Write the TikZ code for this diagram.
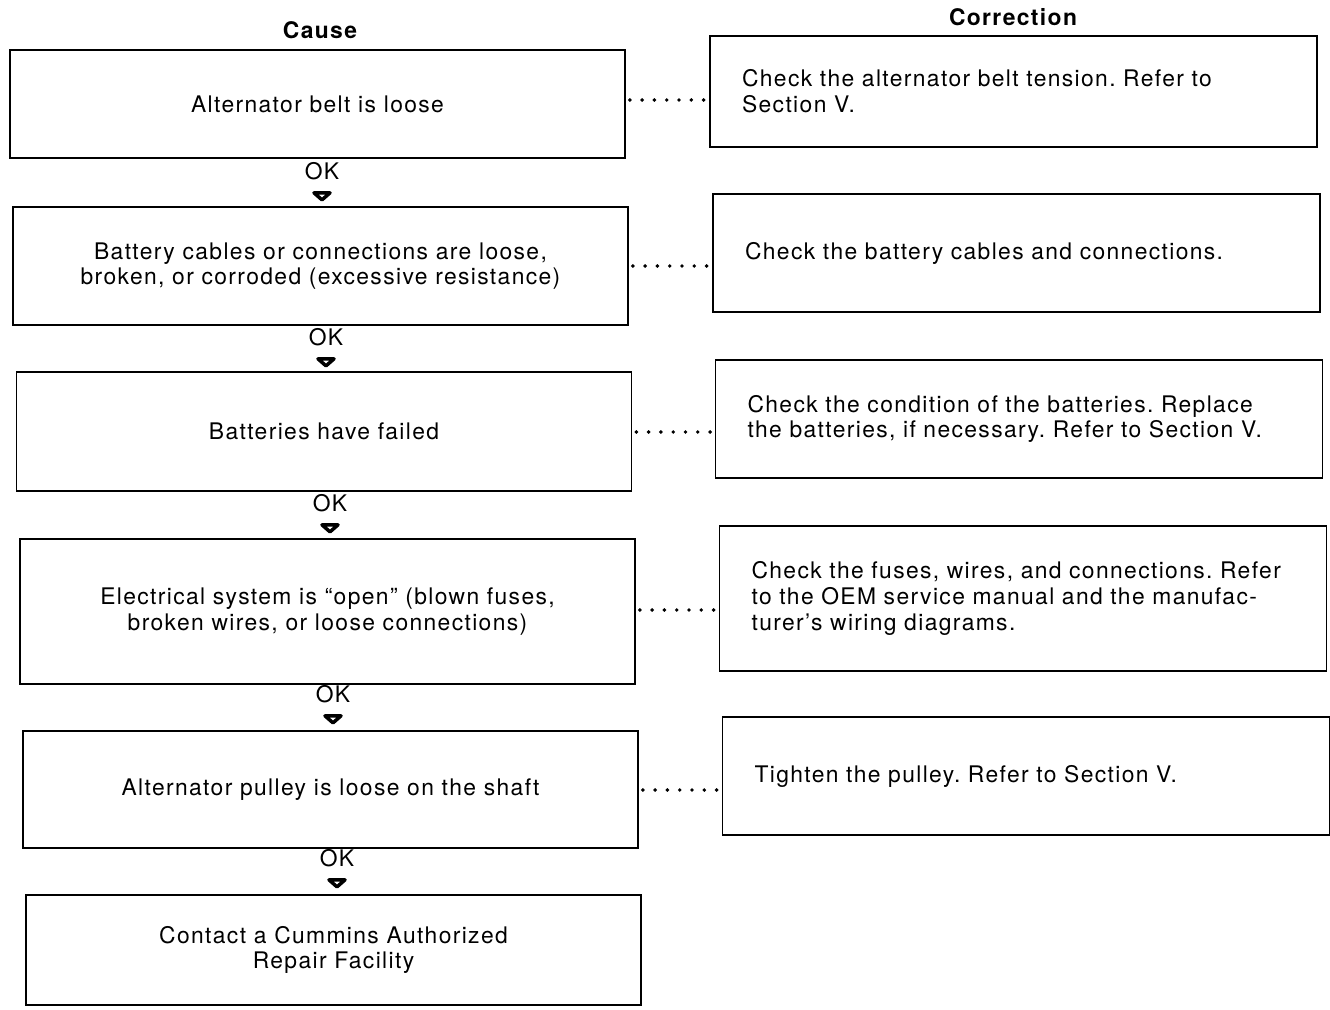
\documentclass[tikz,border=0pt]{standalone}
\usepackage{fontspec}
\setmainfont[LetterSpace=6]{TeX Gyre Heros}
\usetikzlibrary{calc}
\begin{document}
\frenchspacing
\begin{tikzpicture}[x=0.02cm,y=-0.02cm,
  every node/.style={font=\fontsize{13pt}{14.6pt}\selectfont},
  causebox/.style={draw, line width=1pt, minimum width=12.3cm, align=center, inner sep=0pt},
  corrbox/.style={draw, line width=1pt, minimum width=12.14cm, inner xsep=0.64cm, inner ysep=0pt, text width=10.86cm, align=left},
  head/.style={font=\fontsize{13pt}{15pt}\selectfont\bfseries},
  oklabel/.style={inner sep=1pt},
  dotline/.style={line width=2.2pt, line cap=round, dash pattern=on 0pt off 7pt},
  okarrow/.style={line width=2pt, fill=white, line join=round}
]
\useasboundingbox (0,0) rectangle (1330,1010);

\node[head] (cause) at (320,30) {Cause};
\node[head] (corr) at (1013,17) {Correction};

\node[causebox, minimum height=2.16cm] (L1) at (317.5,104) {Alternator belt is loose};
\node[causebox, minimum height=2.36cm] (L2) at (320.5,266) {Battery cables or connections are loose,\\broken, or corroded (excessive resistance)};
\node[causebox, minimum height=2.38cm] (L3) at (324,431.5) {Batteries have failed};
\node[causebox, minimum height=2.90cm] (L4) at (327.5,611.5) {Electrical system is “open” (blown fuses,\\broken wires, or loose connections)};
\node[causebox, minimum height=2.34cm] (L5) at (330.5,789.5) {Alternator pulley is loose on the shaft};
\node[causebox, minimum height=2.20cm] (L6) at (333.5,950) {Contact a Cummins Authorized\\Repair Facility};

\node[corrbox, minimum height=2.22cm] (R1) at (1013.5,91.5) {Check the alternator belt tension. Refer to\\Section V.};
\node[corrbox, minimum height=2.36cm] (R2) at (1016.5,253) {Check the battery cables and connections.};
\node[corrbox, minimum height=2.36cm] (R3) at (1019,419) {Check the condition of the batteries. Replace\\the batteries, if necessary. Refer to Section V.};
\node[corrbox, minimum height=2.90cm] (R4) at (1023,598.5) {Check the fuses, wires, and connections. Refer\\to the OEM service manual and the manufac-\\turer’s wiring diagrams.};
\node[corrbox, minimum height=2.36cm] (R5) at (1026,776) {Tighten the pulley. Refer to Section V.};

\foreach \i/\yy in {1/100,2/266,3/432,4/610,5/790}{
  \draw[dotline] ($(L\i.east |- 0,\yy)+(4,0)$) -- (R\i.west |- 0,\yy);
}

\foreach \i/\x/\y in {1/322/171,2/326/337,3/330/503,4/333/694,5/337/858}{
  \node[oklabel] (ok\i) at (\x,\y) {OK};
  \draw[okarrow] ($(ok\i.south)+(-8,11)$) -- ++(16,0) -- ++(-8,7) -- cycle;
}
\end{tikzpicture}
\end{document}
